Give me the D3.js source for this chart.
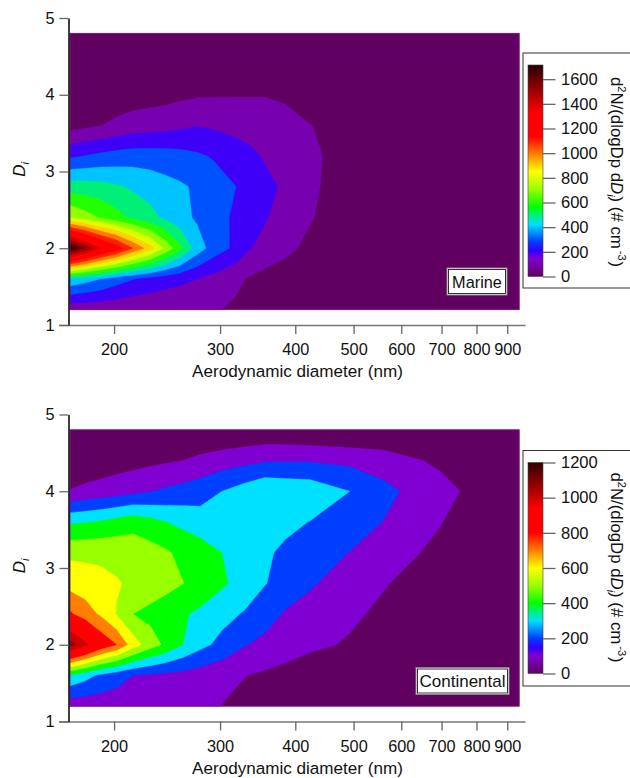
<!DOCTYPE html>
<html lang="en">
<head>
  <meta charset="UTF-8" />
  <title>Marine and continental Di contours</title>
  <script src="https://d3js.org/d3.v7.min.js"></script>
  <style>
    body { margin: 0; background: #fff; overflow: hidden; }
    svg { display: block; }
    text { font-family: 'Liberation Sans', Arial, sans-serif; fill: #111; }
  </style>
</head>
<body>
  <svg width="630" height="778"></svg>

  <script>
    // Di rows, shared by both panels (bottom row first)
    const diRows = [1.2, 1.6, 2.0, 2.4, 2.8, 3.2, 3.6, 4.0, 4.4, 4.8];

    const marineDiam = [169, 179, 190, 201, 215, 230, 243, 257, 275, 294, 318, 336, 356, 385, 407, 440, 484, 553, 723, 942];
    const marineValues = [
      [130, 130, 128, 125, 116, 115, 113, 112, 110, 108, 85, 60, 45, 25, 15, 8, 3, 0, 0, 0],
      [480, 440, 400, 350, 305, 270, 245, 225, 200, 165, 122, 90, 65, 40, 25, 10, 3, 0, 0, 0],
      [1760, 1590, 1400, 1280, 1100, 940, 780, 630, 450, 350, 280, 205, 170, 130, 95, 70, 50, 30, 10, 0],
      [800, 745, 690, 640, 580, 530, 480, 435, 385, 335, 285, 245, 208, 160, 130, 88, 55, 30, 10, 0],
      [550, 545, 535, 515, 485, 460, 435, 415, 385, 345, 302, 265, 230, 183, 148, 100, 70, 40, 10, 0],
      [285, 305, 325, 340, 353, 350, 345, 335, 315, 290, 255, 225, 190, 160, 135, 103, 70, 40, 10, 0],
      [62, 82, 98, 120, 143, 155, 165, 180, 196, 185, 165, 155, 145, 130, 112, 92, 55, 30, 8, 0],
      [18, 28, 38, 45, 53, 60, 65, 78, 90, 92, 94, 95, 96, 87, 72, 48, 20, 10, 3, 0],
      [5, 8, 10, 12, 15, 18, 20, 22, 25, 25, 25, 25, 25, 20, 15, 10, 5, 3, 0, 0],
      [0, 0, 0, 0, 0, 0, 0, 0, 0, 0, 0, 0, 0, 0, 0, 0, 0, 0, 0, 0]
    ];
    const marineLevels = [0, 100, 200, 300, 400, 500, 600, 700, 800, 900, 1000, 1100, 1200, 1300, 1400, 1500, 1600, 1700];
    const marineBarTicks = [0, 200, 400, 600, 800, 1000, 1200, 1400, 1600];

    const contDiam = [169, 179, 190, 202, 215, 230, 243, 260, 278, 302, 330, 356, 385, 423, 493, 564, 645, 696, 751, 942];
    const contValues = [
      [130, 138, 141, 150, 150, 145, 140, 132, 123, 98, 70, 48, 30, 15, 5, 0, 0, 0, 0, 0],
      [390, 335, 280, 235, 200, 185, 175, 165, 150, 128, 102, 85, 65, 42, 20, 10, 5, 3, 0, 0],
      [1150, 1030, 885, 800, 650, 545, 485, 400, 330, 270, 205, 175, 150, 120, 90, 50, 30, 20, 10, 0],
      [815, 750, 685, 595, 500, 470, 445, 412, 380, 335, 290, 240, 190, 160, 116, 80, 50, 35, 20, 0],
      [660, 645, 625, 607, 585, 560, 535, 503, 470, 415, 360, 305, 258, 212, 150, 105, 70, 50, 30, 0],
      [579, 578, 580, 575, 566, 540, 515, 475, 449, 400, 348, 312, 285, 255, 197, 150, 100, 75, 50, 0],
      [385, 395, 408, 435, 459, 430, 403, 375, 347, 340, 335, 330, 320, 298, 250, 195, 135, 105, 70, 0],
      [105, 125, 140, 155, 175, 196, 215, 235, 255, 300, 348, 390, 378, 366, 300, 225, 165, 133, 100, 0],
      [15, 28, 40, 55, 65, 78, 88, 100, 125, 150, 170, 190, 192, 192, 175, 150, 103, 83, 30, 0],
      [0, 0, 0, 0, 0, 0, 0, 0, 0, 5, 15, 18, 15, 5, 0, 0, 0, 0, 0, 0]
    ];
    const contLevels = [0, 100, 200, 300, 400, 500, 600, 700, 800, 900, 1000, 1100];
    const contBarTicks = [0, 200, 400, 600, 800, 1000, 1200];

    const xTicks = [200, 300, 400, 500, 600, 700, 800, 900];
    const yTicks = [1, 2, 3, 4, 5];

    // colour table, as fractions of the colour bar
    const colorPos = [0, 0.083, 0.125, 0.167, 0.25, 0.333, 0.417, 0.5, 0.583, 0.667, 0.78, 1];
    const colorVal = ["#600060", "#8000d0", "#3000ff", "#0040ff", "#00e0ff", "#00ff00", "#99ff00", "#ffff00", "#ff8000", "#ff0000", "#ff0000", "#300000"];

    const svg = d3.select("svg");
    const defs = svg.append("defs");
    const tableColor = d3.scaleLinear().domain(colorPos).range(colorVal);

    const xScale = d3.scaleLog().domain([168, 965]).range([68.5, 525.5]);

    function drawPanel(p) {
      const g = svg.append("g").attr("transform", `translate(0,${p.top})`);
      const yScale = d3.scaleLinear().domain([1, 5]).range([307, 0]);
      const color = v => tableColor(v / p.colorMax);

      const n = p.diam.length, m = diRows.length;
      const idxX = d3.scaleLinear().domain(d3.range(n)).range(p.diam.map(d => xScale(d)));
      const idxY = d3.scaleLinear().domain(d3.range(m)).range(diRows.map(d => yScale(d)));
      const clampX = d3.scaleLinear().domain([0, n - 1]).range([0, n - 1]).clamp(true);
      const clampY = d3.scaleLinear().domain([0, m - 1]).range([0, m - 1]).clamp(true);

      const path = d3.geoPath(d3.geoTransform({
        point(x, y) {
          this.stream.point(idxX(clampX(x - 0.5)), idxY(clampY(y - 0.5)));
        }
      }));

      const bands = d3.contours().size([n, m]).smooth(true).thresholds(p.levels)(p.values.flat());

      g.append("g").selectAll("path")
        .data(bands)
        .join("path")
        .attr("d", path)
        .attr("fill", d => color(d.value))
        .attr("stroke", d => color(d.value))
        .attr("stroke-width", 0.3);

      // thin lighter edge round the image
      g.append("rect")
        .attr("x", idxX(0)).attr("y", idxY(m - 1))
        .attr("width", idxX(n - 1) - idxX(0)).attr("height", idxY(0) - idxY(m - 1))
        .attr("fill", "none").attr("stroke", "#7a1a86").attr("stroke-width", 0.8);

      // axes
      const xAxis = g.append("g")
        .attr("transform", `translate(0,${yScale(1)})`)
        .call(d3.axisBottom(xScale).tickValues(xTicks).tickFormat(d3.format("d")).tickSize(9).tickSizeOuter(0));
      xAxis.select(".domain").attr("stroke", "#777").attr("stroke-width", 1.5)
        .attr("d", `M59,0.5H${xScale.range()[1]}`);
      xAxis.selectAll(".tick line").attr("stroke", "#666").attr("stroke-width", 1.3);
      xAxis.selectAll("text").attr("y", 18.5).attr("font-size", 16.3).attr("font-family", "Liberation Sans").attr("fill", "#111");

      const yAxis = g.append("g")
        .attr("transform", `translate(${xScale.range()[0]},0)`)
        .call(d3.axisLeft(yScale).tickValues(yTicks).tickFormat(d3.format("d")).tickSize(9).tickSizeOuter(0));
      yAxis.select(".domain").attr("stroke", "#000").attr("stroke-width", 1.5);
      yAxis.selectAll(".tick line").attr("stroke", "#666").attr("stroke-width", 1.3);
      yAxis.selectAll("text").attr("x", -14).attr("font-size", 16.3).attr("font-family", "Liberation Sans").attr("fill", "#111");

      g.append("text")
        .attr("x", 297.5).attr("y", yScale(1) + 52)
        .attr("text-anchor", "middle").attr("font-size", 17.1)
        .text("Aerodynamic diameter (nm)");

      const diLabel = g.append("text")
        .attr("transform", `translate(25,${yScale(3) - 2}) rotate(-90)`)
        .attr("text-anchor", "middle").attr("font-size", 17);
      diLabel.append("tspan").attr("font-style", "italic").text("D");
      diLabel.append("tspan").attr("font-style", "italic").attr("font-size", 11).attr("dy", 4).text("i");

      // inset label
      const lb = p.label;
      g.append("rect").attr("x", lb.x).attr("y", lb.y).attr("width", lb.w).attr("height", 27)
        .attr("fill", "#fff").attr("stroke", "#888").attr("stroke-width", 1);
      g.append("rect").attr("x", lb.x + 1.5).attr("y", lb.y + 1.5).attr("width", lb.w - 3).attr("height", 24)
        .attr("fill", "#fff").attr("stroke", "#000").attr("stroke-width", 0.8);
      g.append("text").attr("x", lb.x + lb.w / 2).attr("y", lb.y + 19.5)
        .attr("text-anchor", "middle").attr("font-size", lb.size).text(lb.text);

      // colour bar
      const bar = p.bar;
      const barY = d3.scaleLinear().domain([0, bar.max]).range([bar.bottom, bar.top]);
      g.append("rect").attr("x", 523).attr("y", bar.frameTop).attr("width", 120).attr("height", bar.frameH)
        .attr("fill", "#fff").attr("stroke", "#333").attr("stroke-width", 1);

      const grad = defs.append("linearGradient").attr("id", p.id)
        .attr("x1", 0).attr("y1", 1).attr("x2", 0).attr("y2", 0);
      grad.selectAll("stop")
        .data(colorPos)
        .join("stop")
        .attr("offset", d => d * p.colorMax / bar.max)
        .attr("stop-color", (d, i) => colorVal[i]);

      g.append("rect").attr("x", 528).attr("y", bar.top).attr("width", 15).attr("height", bar.bottom - bar.top)
        .attr("fill", `url(#${p.id})`).attr("stroke", "#444").attr("stroke-width", 0.6);

      const barAxis = g.append("g")
        .attr("transform", "translate(543,0)")
        .call(d3.axisRight(barY).tickValues(p.barTicks).tickFormat(d3.format("d")).tickSize(12.5).tickSizeOuter(0));
      barAxis.select(".domain").remove();
      barAxis.selectAll(".tick line").attr("stroke", "#666").attr("stroke-width", 1.3);
      barAxis.selectAll("text").attr("x", 18).attr("font-size", 16.5).attr("font-family", "Liberation Sans").attr("fill", "#111");

      const title = g.append("text")
        .attr("transform", `translate(610.5,${bar.titleY}) rotate(90)`)
        .attr("font-size", 16.8);
      title.append("tspan").text("d");
      title.append("tspan").attr("font-size", 11).attr("dy", -7).text("2");
      title.append("tspan").attr("dy", 7).text("N/(dlogDp d");
      title.append("tspan").attr("font-style", "italic").text("D");
      title.append("tspan").attr("font-style", "italic").attr("font-size", 11).attr("dy", 4).text("i");
      title.append("tspan").attr("dy", -4).text(") (# cm");
      title.append("tspan").attr("font-size", 11).attr("dy", -7).attr("dx", 2).text("-3");
      title.append("tspan").attr("dy", 7).attr("dx", 1).text(")");
    }

    drawPanel({
      id: "marineBar", top: 18, diam: marineDiam, values: marineValues, levels: marineLevels,
      colorMax: 1700, barTicks: marineBarTicks,
      label: { text: "Marine", size: 16.3, x: 447, y: 250, w: 60 },
      bar: { max: 1715, top: 47, bottom: 258.5, frameTop: 35, frameH: 235, titleY: 59 }
    });

    drawPanel({
      id: "contBar", top: 414.5, diam: contDiam, values: contValues, levels: contLevels,
      colorMax: 1200, barTicks: contBarTicks,
      label: { text: "Continental", size: 17, x: 416, y: 253, w: 93 },
      bar: { max: 1200, top: 48, bottom: 259, frameTop: 36, frameH: 235.5, titleY: 58 }
    });
  </script>
</body>
</html>
